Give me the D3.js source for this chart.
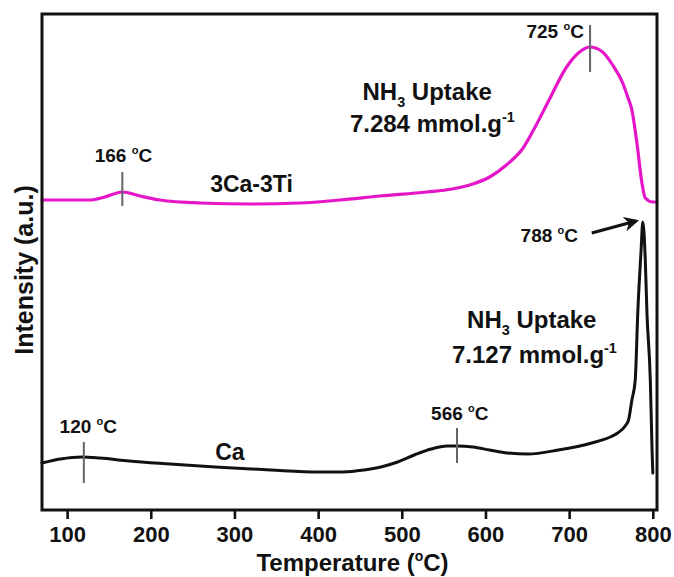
<!DOCTYPE html>
<html>
<head>
<meta charset="utf-8">
<script src="https://cdn.jsdelivr.net/npm/d3@7/dist/d3.min.js"></script>
<style>
  html, body { margin: 0; padding: 0; background: #fff; }
  svg { display: block; }
  text { font-family: "Liberation Sans", Arial, sans-serif; font-weight: bold; fill: #111; }
</style>
</head>
<body>
<svg id="chart" width="674" height="577"></svg>
<script>
// ---------- DATA (temperature in °C, intensity in arbitrary units) ----------
const tempCaTi = [70,128,145,166,187,211,259,319,378,426,474,530,560,585,605,625,645,660,676,697,711,725,740,752,764,770,775,781,787,791,800,805];
const intCaTi  = [310,310,313,318,314,310,307,306,307,310,314,318,321,326,333,345,362,384,410,443,457,463,458,445,427,413,400,367,327,312,308,308];

const tempCa = [70,92,118,139,174,223,277,343,400,430,455,475,495,515,535,554,566,585,605,626,651,687,727,749,758,767,771,775,779,782,786,788,791,793,797,799,800];
const intCa  = [47,51,53,52,49,46,43,40,38,38,40,43,48,55,61,64,64,63,60,57,56,60,67,73,77,84,90,110,130,197,260,288,250,197,130,63,37];

const xTicks = [100,200,300,400,500,600,700,800];
const seriesNames = ["3Ca-3Ti", "Ca"];
const seriesColors = ["#e516c8", "#111111"];
const peakTemps = [166, 725, 120, 566, 788];
const uptakes = ["7.284", "7.127"];

// ---------- LAYOUT ----------
const W = 674, H = 577;
const m = {left: 42, right: 17, top: 14, bottom: 67};
const svg = d3.select("#chart");

const x = d3.scaleLinear().domain([70, 805]).range([m.left, W - m.right]);
const y = d3.scaleLinear().domain([0, 496]).range([H - m.bottom, m.top]);

const line = d3.line().x(d => x(d[0])).y(d => y(d[1])).curve(d3.curveMonotoneX);

const dataCaTi = tempCaTi.map((t, i) => [t, intCaTi[i]]);
const dataCa = tempCa.map((t, i) => [t, intCa[i]]);

// curves
svg.append("path").datum(dataCaTi).attr("d", line)
  .attr("fill", "none").attr("stroke", seriesColors[0]).attr("stroke-width", 3.2)
  .attr("stroke-linejoin", "round").attr("stroke-linecap", "round");
svg.append("path").datum(dataCa).attr("d", line)
  .attr("fill", "none").attr("stroke", seriesColors[1]).attr("stroke-width", 3)
  .attr("stroke-linejoin", "round").attr("stroke-linecap", "round");

// x axis
const xAxis = d3.axisBottom(x).tickValues(xTicks).tickSize(9).tickSizeOuter(0).tickPadding(7);
const gx = svg.append("g").attr("transform", `translate(0,${H - m.bottom})`).call(xAxis);
gx.select(".domain").remove();
gx.selectAll(".tick line").attr("stroke", "#111").attr("stroke-width", 2.6);
gx.selectAll(".tick text").attr("font-size", 22).attr("fill", "#111")
  .attr("font-family", '"Liberation Sans", Arial, sans-serif').attr("font-weight", "bold");

// frame
svg.append("rect")
  .attr("x", m.left).attr("y", m.top)
  .attr("width", W - m.left - m.right).attr("height", H - m.top - m.bottom)
  .attr("fill", "none").attr("stroke", "#111").attr("stroke-width", 3);

// axis titles
const xt = svg.append("text").attr("x", (m.left + W - m.right) / 2 + 3).attr("y", 571)
  .attr("text-anchor", "middle").attr("font-size", 24);
xt.append("tspan").text("Temperature (");
xt.append("tspan").text("o").attr("font-size", 14).attr("dy", -10);
xt.append("tspan").text("C)").attr("dy", 10);

svg.append("text").attr("transform", `translate(33,${(m.top + H - m.bottom) / 2 + 8}) rotate(-90)`)
  .attr("text-anchor", "middle").attr("font-size", 25).text("Intensity (a.u.)");

// ---------- ANNOTATIONS ----------
function degLabel(t, v, label, size) {
  const tx = svg.append("text").attr("x", x(t)).attr("y", y(v)).attr("font-size", size);
  tx.append("tspan").text(label + " ");
  tx.append("tspan").text("o").attr("font-size", size * 0.58).attr("dy", -size * 0.42);
  tx.append("tspan").text("C").attr("dy", size * 0.42);
  return tx;
}
function peakTick(t, v0, v1) {
  svg.append("line").attr("x1", x(t)).attr("x2", x(t)).attr("y1", y(v0)).attr("y2", y(v1))
    .attr("stroke", "#666").attr("stroke-width", 2);
}
function uptake(t, v, size) {
  const a = svg.append("text").attr("x", x(t)).attr("y", y(v)).attr("font-size", size);
  a.append("tspan").text("NH");
  a.append("tspan").text("3").attr("font-size", size * 0.6).attr("dy", size * 0.3);
  a.append("tspan").text(" Uptake").attr("dy", -size * 0.3);
}
function uptakeValue(t, v, value, size) {
  const a = svg.append("text").attr("x", x(t)).attr("y", y(v)).attr("font-size", size);
  a.append("tspan").text(value + " mmol.g");
  a.append("tspan").text("-1").attr("font-size", size * 0.6).attr("dy", -size * 0.42);
}

// 3Ca-3Ti
peakTick(peakTemps[0], 338, 304);
degLabel(133, 348, String(peakTemps[0]), 19);
svg.append("text").attr("x", x(271)).attr("y", y(318)).attr("font-size", 23).text(seriesNames[0]);
uptake(453, 410, 24);
uptakeValue(438, 378, uptakes[0], 24);
peakTick(peakTemps[1], 485, 438);
degLabel(649, 472, String(peakTemps[1]), 19);

// Ca
peakTick(peakTemps[2], 68, 27);
degLabel(91, 77, String(peakTemps[2]), 19);
svg.append("text").attr("x", x(277)).attr("y", y(50)).attr("font-size", 23).text(seriesNames[1]);
peakTick(peakTemps[3], 82, 47);
degLabel(535, 90, String(peakTemps[3]), 19);
degLabel(642, 268, String(peakTemps[4]), 19);
uptake(578, 182, 24);
uptakeValue(560, 147, uptakes[1], 24);

// arrow to 788 peak
const defs = svg.append("defs");
defs.append("marker").attr("id", "ah").attr("viewBox", "0 0 10 10").attr("refX", 8).attr("refY", 5)
  .attr("markerWidth", 5).attr("markerHeight", 5).attr("orient", "auto")
  .append("path").attr("d", "M0,0 L10,5 L0,10 L3,5 Z").attr("fill", "#111");
svg.append("line").attr("x1", x(727)).attr("y1", y(277)).attr("x2", x(780)).attr("y2", y(289))
  .attr("stroke", "#111").attr("stroke-width", 3).attr("marker-end", "url(#ah)");
</script>
</body>
</html>
